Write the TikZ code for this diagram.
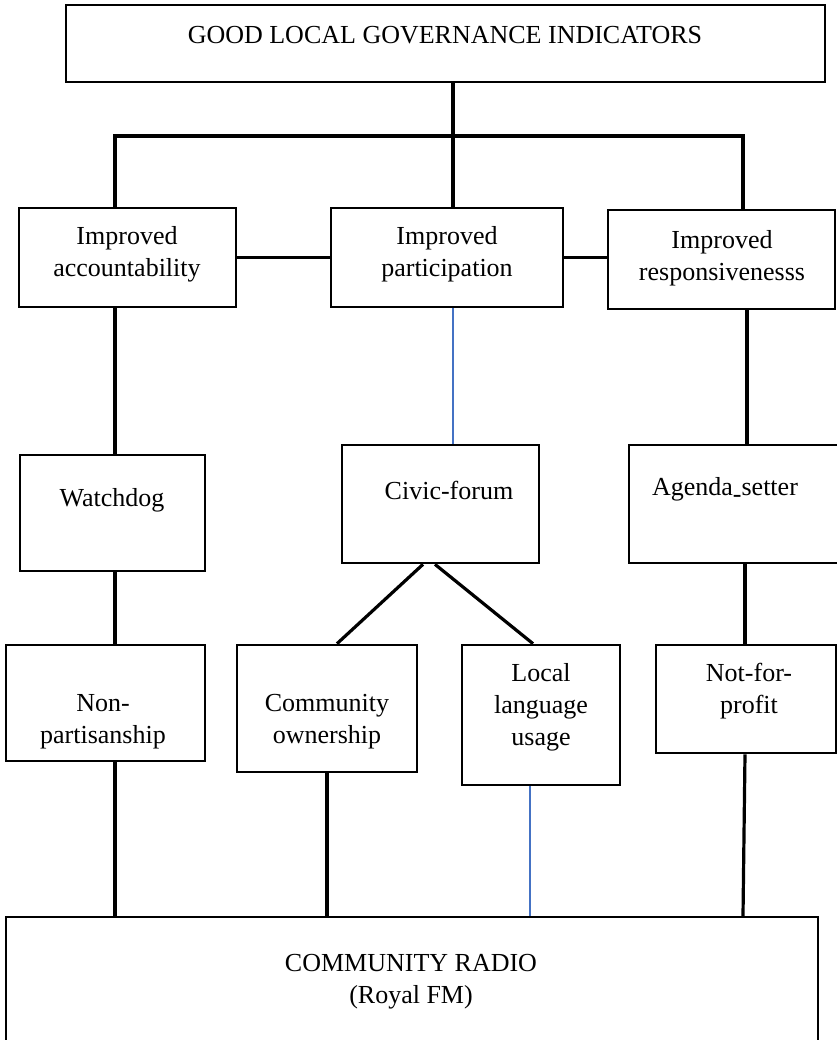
\documentclass[tikz,border=0pt]{standalone}
\usepackage{fontspec}
\setmainfont{Liberation Serif}
\usetikzlibrary{fit}
\definecolor{lineblue}{RGB}{68,114,196}
\begin{document}
\begin{tikzpicture}[x=0.75pt,y=-0.75pt,
  box/.style={draw=black,line width=2pt,inner sep=0pt,rectangle},
  lbl/.style={inner sep=0pt,align=center,font=\fontsize{19.5}{24}\selectfont},
  conn/.style={draw=black,line width=2.4pt},
  bconn/.style={draw=lineblue,line width=1.2pt}]
\clip (0,0) rectangle (837,1040);
\fill[white] (0,0) rectangle (837,1040);
% boxes
\node[box,fit={(66,5)(825,82)}] (top) {};
\node[box,fit={(19,208)(236,307)}] (acc) {};
\node[box,fit={(331,208)(563,307)}] (part) {};
\node[box,fit={(608,210)(835,309)}] (resp) {};
\node[box,fit={(20,455)(205,571)}] (wd) {};
\node[box,fit={(342,445)(539,563)}] (civ) {};
\node[box,fit={(629,445)(845,563)}] (ag) {};
\node[box,fit={(6,645)(205,761)}] (np) {};
\node[box,fit={(237,645)(417,772)}] (co) {};
\node[box,fit={(462,645)(620,785)}] (ll) {};
\node[box,fit={(656,645)(836,753)}] (nfp) {};
\node[box,line width=1.6pt,fit={(6,917)(818,1060)}] (cr) {};
% labels
\node[lbl] (ttop) at (445,35) {GOOD LOCAL GOVERNANCE INDICATORS};
\node[lbl] (tacc) at (127,254) {Improved\\accountability};
\node[lbl] (tpart) at (447,254) {Improved\\participation};
\node[lbl] (tresp) at (722,258) {Improved\\responsivenesss};
\node[lbl] (twd) at (112,500) {Watchdog};
\node[lbl] (tciv) at (449,490) {Civic-forum};
\node[lbl] (tag) at (725,490) {Agenda\raisebox{-0.3em}{-}setter};
\node[lbl] (tnp) at (103,722) {Non-\\partisanship};
\node[lbl] (tco) at (327,722) {Community\\ownership};
\node[lbl] (tll) at (541,707) {Local\\language\\usage};
\node[lbl] (tnfp) at (749,691) {Not-for-\\profit};
\node[lbl] (tcr) at (411,982) {COMMUNITY RADIO\\(Royal FM)};
% junction coordinates
\coordinate (jl) at (115,136);
\coordinate (jc) at (453,136);
\coordinate (jr) at (743,136);
\coordinate (xr) at (747,0);
\coordinate (xn) at (745,0);
\coordinate (xco) at (327,0);
\coordinate (xll) at (530,0);
\coordinate (d1) at (423,0);
\coordinate (d2) at (337,0);
\coordinate (d3) at (435,0);
\coordinate (d4) at (533,0);
% connectors
\draw[conn] (top.south -| jc) -- (part.north -| jc);
\draw[conn] (acc.north -| jl) -- (jl) -- (jr) -- (resp.north -| jr);
\draw[conn] (acc.east) -- (part.west);
\draw[conn] (part.east) -- (part.east -| resp.west);
\draw[conn] (acc.south -| jl) -- (wd.north -| jl);
\draw[bconn] (part.south -| jc) -- (civ.north -| jc);
\draw[conn] (resp.south -| xr) -- (ag.north -| xr);
\draw[conn] (wd.south -| jl) -- (np.north -| jl);
\draw[conn] (ag.south -| xn) -- (nfp.north -| xn);
\draw[conn] (civ.south -| d1) -- (co.north -| d2);
\draw[conn] (civ.south -| d3) -- (ll.north -| d4);
\draw[conn] (np.south -| jl) -- (cr.north -| jl);
\draw[conn] (co.south -| xco) -- (cr.north -| xco);
\draw[bconn,line width=1.8pt] (ll.south -| xll) -- (cr.north -| xll);
\draw[conn] (nfp.south -| xn) -- (cr.north -| jr);
\end{tikzpicture}
\end{document}
